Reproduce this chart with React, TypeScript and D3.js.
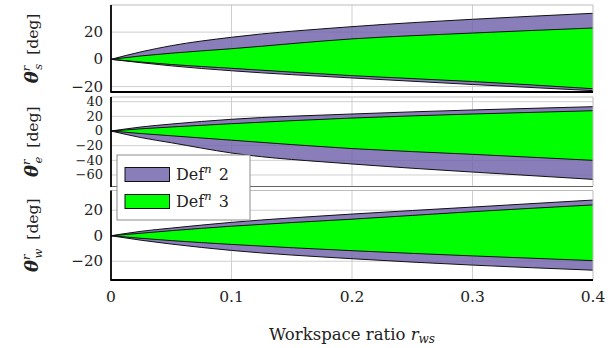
import React from "react";
import * as d3 from "d3";

// ---- data ----
const ratios = [0, 0.025, 0.05, 0.1, 0.2, 0.3, 0.4];

// shoulder θ_s
const sUpper2 = [0, 5.5, 10, 16.2, 24, 29.4, 33.8];
const sUpper3 = [0, 2.5, 4.5, 7.8, 15, 19.3, 23];
const sLower3 = [0, -2, -3.8, -6.6, -12, -16.3, -21.6];
const sLower2 = [0, -2.5, -4.8, -8.4, -13.7, -18.5, -23];

// elbow θ_e
const eUpper2 = [0, 5.5, 9.5, 16, 23.2, 28.7, 33.2];
const eUpper3 = [0, 3, 5.5, 10, 17.7, 23.2, 27.7];
const eLower3 = [0, -3.5, -6.5, -12.5, -24, -31.8, -40];
const eLower2 = [0, -9, -16, -30, -45, -56, -66];

// wrist θ_w
const wUpper2 = [0, 3.5, 6, 10.5, 17, 22.5, 28];
const wUpper3 = [0, 2, 4, 7.5, 13, 18.9, 24.2];
const wLower3 = [0, -2, -3.8, -6.8, -11.7, -15.8, -19.5];
const wLower2 = [0, -3.5, -6.5, -11.5, -18, -23, -27];

const xTicks = [0, 0.1, 0.2, 0.3, 0.4];
const sTicks = [20, 0, -20];
const eTicks = [40, 20, 0, -20, -40, -60];
const wTicks = [20, 0, -20];

const legendLabels = ["2", "3"];

const PURPLE = "#6f61aa";
const GREEN = "#00ff00";
const FONT = "DejaVu Serif";
const TXT: React.CSSProperties = { fontFamily: FONT };

const X0 = 111;
const X1 = 593;

interface PanelSpec {
  top: number;
  bottom: number;
  domain: [number, number];
  ticks: number[];
  u2: number[];
  u3: number[];
  l3: number[];
  l2: number[];
  sub: string;
  bottomStyle: { stroke: string; width: number };
}

const panels: PanelSpec[] = [
  { top: 5, bottom: 92, domain: [-24, 39.9], ticks: sTicks, u2: sUpper2, u3: sUpper3, l3: sLower3, l2: sLower2, sub: "s", bottomStyle: { stroke: "#000", width: 1.8 } },
  { top: 97, bottom: 186.5, domain: [-75.7, 46.4], ticks: eTicks, u2: eUpper2, u3: eUpper3, l3: eLower3, l2: eLower2, sub: "e", bottomStyle: { stroke: "#666", width: 1 } },
  { top: 190.5, bottom: 280, domain: [-34.7, 35.5], ticks: wTicks, u2: wUpper2, u3: wUpper3, l3: wLower3, l2: wLower2, sub: "w", bottomStyle: { stroke: "#000", width: 1.8 } },
];

const fmt = (v: number) => (v < 0 ? "\u2212" + Math.abs(v) : String(v));

function Panel({ p, idx, x }: { p: PanelSpec; idx: number; x: d3.ScaleLinear<number, number> }) {
  const y = d3.scaleLinear().domain(p.domain).range([p.bottom, p.top]);
  const area = (lo: number[], hi: number[]) =>
    d3
      .area<number>()
      .x((d) => x(d))
      .y0((_, i) => y(lo[i]))
      .y1((_, i) => y(hi[i]))
      .curve(d3.curveMonotoneX)(ratios) || "";
  const line = (vals: number[]) =>
    d3
      .line<number>()
      .x((d) => x(d))
      .y((_, i) => y(vals[i]))
      .curve(d3.curveMonotoneX)(ratios) || "";
  const clipId = `clip${idx}`;
  const midY = (p.top + p.bottom) / 2;
  const tickFs = p.ticks.length > 4 ? 13 : 15;
  return (
    <g>
      <defs>
        <clipPath id={clipId}>
          <rect x={X0} y={p.top} width={X1 - X0} height={p.bottom - p.top} />
        </clipPath>
      </defs>
      {p.ticks.map((t) => (
        <line key={"gy" + t} x1={X0} x2={X1} y1={y(t)} y2={y(t)} stroke="#cfcfcf" strokeWidth={1} />
      ))}
      {xTicks.slice(1, -1).map((t) => (
        <line key={"gx" + t} x1={x(t)} x2={x(t)} y1={p.top} y2={p.bottom} stroke="#cfcfcf" strokeWidth={1} />
      ))}
      <g clipPath={`url(#${clipId})`}>
        <path d={area(p.l2, p.u2)} fill={PURPLE} fillOpacity={0.82} />
        <path d={area(p.l3, p.u3)} fill={GREEN} />
        {[p.u2, p.u3, p.l3, p.l2].map((v, i) => (
          <path key={i} d={line(v)} fill="none" stroke="#111" strokeWidth={1} />
        ))}
      </g>
      <line x1={X0} x2={X1} y1={p.top} y2={p.top} stroke="#bdbdbd" strokeWidth={1} />
      <line x1={X1} x2={X1} y1={p.top} y2={p.bottom} stroke="#bdbdbd" strokeWidth={1} />
      <line x1={X0 - 0.5} x2={X1} y1={p.bottom} y2={p.bottom} stroke={p.bottomStyle.stroke} strokeWidth={p.bottomStyle.width} />
      <line x1={X0} x2={X0} y1={p.top} y2={p.bottom + 0.5} stroke="#000" strokeWidth={1.8} />
      {p.ticks.map((t) => (
        <text key={"t" + t} x={103} y={y(t)} dy="0.33em" textAnchor="end" style={TXT} fontSize={tickFs} fill="#222">
          {fmt(t)}
        </text>
      ))}
      <text transform={`translate(38,${midY}) rotate(-90)`} textAnchor="middle" style={TXT} fontSize={15.5} fill="#222">
        <tspan fontWeight="bold" fontStyle="italic" fontSize={18}>θ</tspan>
        <tspan fontStyle="italic" fontSize={11.5} dy={-8}>r</tspan>
        <tspan fontStyle="italic" fontSize={11.5} dx={-4} dy={12}>{p.sub}</tspan>
        <tspan dx={9} dy={-4}>[deg]</tspan>
      </text>
    </g>
  );
}

export default function App() {
  const x = d3.scaleLinear().domain([0, 0.4]).range([X0, X1]);
  return (
    <svg width={612} height={348} style={{ position: "absolute", left: 0, top: 0, background: "#fff" }}>
      <rect width={612} height={348} fill="#fff" />
      {panels.map((p, i) => (
        <Panel key={i} p={p} idx={i} x={x} />
      ))}
      {xTicks.map((t) => (
        <text key={t} x={x(t)} y={302} textAnchor="middle" style={TXT} fontSize={15.5} fill="#222">
          {String(t)}
        </text>
      ))}
      <text x={352} y={340} textAnchor="middle" style={TXT} fontSize={16.5} fill="#222">
        Workspace ratio <tspan fontStyle="italic">r</tspan>
        <tspan fontStyle="italic" fontSize={12} dy={3}>ws</tspan>
      </text>
      <g>
        <rect x={117} y={155} width={133} height={65} fill="#fff" stroke="#8c8c8c" strokeWidth={1} />
        {legendLabels.map((lab, i) => (
          <g key={lab}>
            <rect x={125} y={167.5 + i * 27} width={44.5} height={14} fill={i === 0 ? PURPLE : GREEN} fillOpacity={i === 0 ? 0.82 : 1} stroke="#111" strokeWidth={1} />
            <text x={176} y={180 + i * 27} style={TXT} fontSize={16} fill="#222">
              Def<tspan fontStyle="italic" fontSize={11.5} dy={-7}>n</tspan>
              <tspan dx={7} dy={7}>{lab}</tspan>
            </text>
          </g>
        ))}
      </g>
    </svg>
  );
}
